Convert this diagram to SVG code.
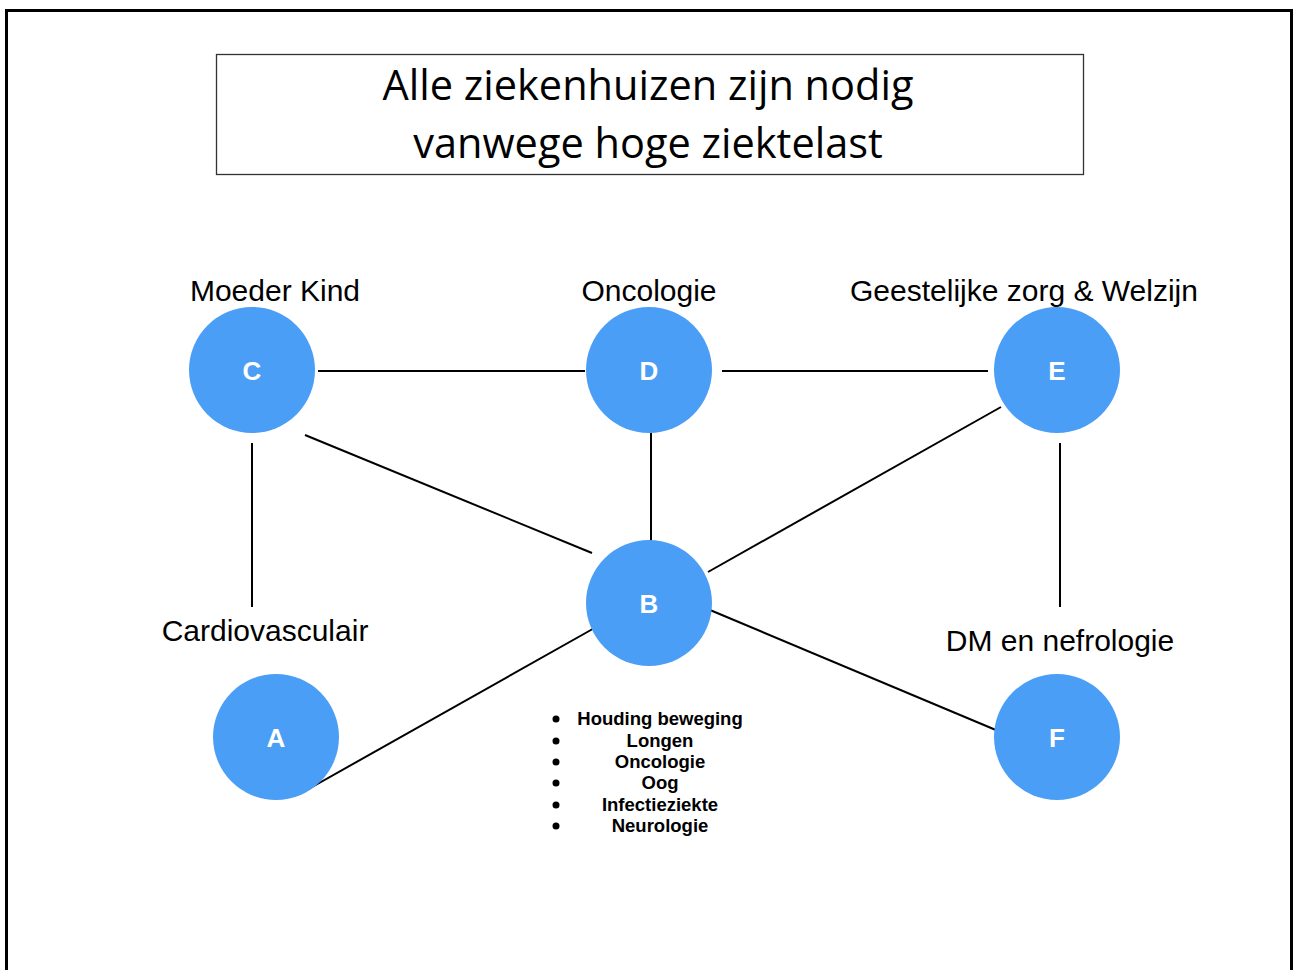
<svg xmlns="http://www.w3.org/2000/svg" width="1293" height="970" viewBox="0 0 1293 970">
<style>
.node circle{fill:#4b9ef5}
.node text{fill:#fff;font-family:"Liberation Sans",Arial,sans-serif;font-weight:bold;font-size:26px;text-anchor:middle}
.lbl{font-family:"Liberation Sans",Arial,sans-serif;font-size:30px;fill:#000;text-anchor:middle}
.conn line{stroke:#000;stroke-width:2}
.lst{font-family:"Liberation Sans",Arial,sans-serif;font-weight:bold;font-size:18.5px;text-anchor:middle}
</style>
<rect x="0" y="0" width="1293" height="970" fill="#fff"/>
<path d="M6.5 980 V10.5 H1291.5 V980" fill="none" stroke="#000" stroke-width="3"/>
<g id="title">
<rect x="216.5" y="54.5" width="867" height="120" fill="#fff" stroke="#333" stroke-width="1.3"/>
<text x="648" y="100" font-family="'Open Sans','Liberation Sans',sans-serif" font-size="41.5" text-anchor="middle">Alle ziekenhuizen zijn nodig</text>
<text x="648" y="158" font-family="'Open Sans','Liberation Sans',sans-serif" font-size="41.5" text-anchor="middle">vanwege hoge ziektelast</text>
</g>
<g id="connectors" class="conn">
<line x1="318" y1="371" x2="585" y2="371"/>
<line x1="722" y1="371" x2="988" y2="371"/>
<line x1="305" y1="435" x2="592" y2="553"/>
<line x1="651" y1="433" x2="651" y2="545"/>
<line x1="1001" y1="407" x2="708" y2="572"/>
<line x1="252" y1="443" x2="252" y2="607"/>
<line x1="1060" y1="443" x2="1060" y2="607"/>
<line x1="305" y1="791" x2="598" y2="626"/>
<line x1="710" y1="610" x2="1003" y2="733"/>
</g>
<g id="node-C" class="node"><circle cx="252" cy="370" r="63"/><text x="252" y="380">C</text></g>
<g id="node-D" class="node"><circle cx="649" cy="370" r="63"/><text x="649" y="380">D</text></g>
<g id="node-E" class="node"><circle cx="1057" cy="370" r="63"/><text x="1057" y="380">E</text></g>
<g id="node-B" class="node"><circle cx="649" cy="603" r="63"/><text x="649" y="613">B</text></g>
<g id="node-A" class="node"><circle cx="276" cy="737" r="63"/><text x="276" y="747">A</text></g>
<g id="node-F" class="node"><circle cx="1057" cy="737" r="63"/><text x="1057" y="747">F</text></g>
<text class="lbl" x="275" y="301">Moeder Kind</text>
<text class="lbl" x="649" y="301">Oncologie</text>
<text class="lbl" x="1024" y="301">Geestelijke zorg &amp; Welzijn</text>
<text class="lbl" x="265" y="641">Cardiovasculair</text>
<text class="lbl" x="1060" y="651">DM en nefrologie</text>
<g id="list">
<g fill="#000">
<circle cx="556" cy="719" r="3.5"/><circle cx="556" cy="741" r="3.5"/><circle cx="556" cy="762" r="3.5"/>
<circle cx="556" cy="783" r="3.5"/><circle cx="556" cy="805" r="3.5"/><circle cx="556" cy="826" r="3.5"/>
</g>
<text class="lst" x="660" y="725">Houding beweging</text>
<text class="lst" x="660" y="747">Longen</text>
<text class="lst" x="660" y="768">Oncologie</text>
<text class="lst" x="660" y="789">Oog</text>
<text class="lst" x="660" y="811">Infectieziekte</text>
<text class="lst" x="660" y="832">Neurologie</text>
</g>
</svg>
